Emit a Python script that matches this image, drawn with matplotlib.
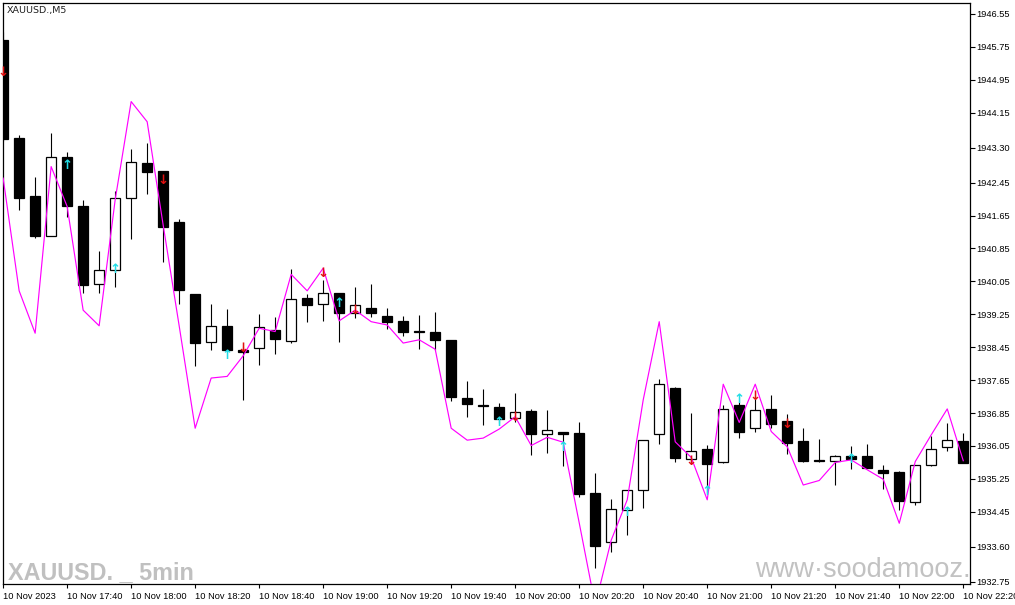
import matplotlib
matplotlib.use("Agg")
import matplotlib.pyplot as plt
import numpy as np

# ---- data ----
opens = [1945.92, 1943.54, 1942.13, 1941.16, 1943.07, 1941.88, 1939.98, 1940.32, 1942.08, 1942.93,
         1942.73, 1941.49, 1939.74, 1938.57, 1938.97, 1938.37, 1938.42, 1938.87, 1938.59, 1939.64,
         1939.49, 1939.76, 1939.27, 1939.40, 1939.21, 1939.09, 1938.84, 1938.82, 1938.63, 1937.22,
         1937.05, 1937.00, 1936.73, 1936.90, 1936.33, 1936.39, 1936.36, 1934.91, 1933.71, 1934.49,
         1934.99, 1936.33, 1937.46, 1935.74, 1935.98, 1935.67, 1937.05, 1936.48, 1936.95, 1936.66,
         1936.17, 1935.71, 1935.69, 1935.81, 1935.81, 1935.47, 1935.42, 1934.69, 1935.59, 1936.02,
         1936.17]
highs = [1946.11, 1943.61, 1942.59, 1943.66, 1943.19, 1942.03, 1940.79, 1942.25, 1943.27, 1943.42,
         1942.74, 1941.57, 1939.74, 1939.50, 1939.37, 1938.45, 1939.26, 1939.18, 1940.35, 1939.74,
         1940.08, 1939.76, 1939.92, 1939.99, 1939.40, 1939.21, 1939.23, 1939.31, 1938.63, 1937.63,
         1937.43, 1937.09, 1937.33, 1936.94, 1936.92, 1936.40, 1936.63, 1935.40, 1934.76, 1934.98,
         1936.19, 1937.68, 1937.48, 1936.84, 1936.07, 1937.04, 1937.12, 1937.20, 1937.29, 1936.83,
         1936.49, 1936.23, 1935.82, 1936.05, 1936.10, 1935.59, 1935.45, 1935.59, 1936.29, 1936.61,
         1936.37]
lows = [1943.46, 1941.79, 1941.11, 1941.15, 1941.62, 1939.76, 1939.76, 1939.92, 1941.08, 1942.17,
        1940.53, 1939.49, 1938.00, 1938.37, 1938.34, 1937.17, 1938.02, 1938.29, 1938.54, 1939.07,
        1939.08, 1938.58, 1939.17, 1939.19, 1938.89, 1938.71, 1938.41, 1938.38, 1937.15, 1936.76,
        1936.57, 1936.60, 1936.64, 1935.84, 1935.89, 1935.57, 1934.82, 1933.09, 1933.48, 1933.89,
        1934.54, 1936.10, 1935.67, 1935.63, 1934.90, 1935.63, 1936.25, 1936.40, 1936.49, 1935.86,
        1935.67, 1935.67, 1935.09, 1935.50, 1935.51, 1935.00, 1934.49, 1934.62, 1935.57, 1935.93,
        1935.64]
closes = [1943.51, 1942.08, 1941.16, 1943.07, 1941.89, 1939.95, 1940.33, 1942.07, 1942.94, 1942.72,
          1941.38, 1939.85, 1938.54, 1938.97, 1938.39, 1938.33, 1938.93, 1938.66, 1939.61, 1939.48,
          1939.77, 1939.27, 1939.47, 1939.27, 1939.07, 1938.83, 1938.81, 1938.62, 1937.25, 1937.06,
          1937.01, 1936.70, 1936.87, 1936.35, 1936.43, 1936.35, 1934.89, 1933.61, 1934.52, 1934.97,
          1936.19, 1937.55, 1935.76, 1935.92, 1935.62, 1936.95, 1936.40, 1936.92, 1936.59, 1936.13,
          1935.68, 1935.68, 1935.81, 1935.73, 1935.52, 1935.40, 1934.72, 1935.59, 1935.98, 1936.19,
          1935.64]
indicator = [1942.56, 1939.82, 1938.79, 1942.84, 1941.87, 1939.35, 1938.97, 1942.03, 1944.42, 1943.93,
             1941.42, 1938.97, 1936.48, 1937.70, 1937.74, 1938.24, 1938.91, 1938.83, 1940.22, 1939.82,
             1940.37, 1939.09, 1939.35, 1939.07, 1938.99, 1938.55, 1938.63, 1938.40, 1936.48, 1936.19,
             1936.24, 1936.46, 1936.76, 1936.06, 1936.26, 1936.14, 1934.18, 1932.18, 1933.76, 1934.74,
             1937.17, 1939.07, 1936.15, 1935.77, 1934.74, 1937.55, 1936.62, 1937.55, 1936.40, 1936.03,
             1935.10, 1935.21, 1935.65, 1935.71, 1935.47, 1935.24, 1934.17, 1935.67, 1936.32, 1936.95,
             1935.69]
up_bars = [4, 7, 14, 21, 31, 35, 39, 44, 46, 53]
up_prices = [1942.86, 1940.33, 1938.24, 1939.52, 1936.63, 1936.02, 1934.44, 1934.95, 1937.19, 1935.71]
down_bars = [0, 10, 15, 20, 22, 32, 43, 47, 49]
down_prices = [1945.12, 1942.51, 1938.41, 1940.25, 1939.35, 1936.75, 1935.66, 1937.24, 1936.56]

price_ticks = [1946.55, 1945.75, 1944.95, 1944.15, 1943.30, 1942.45, 1941.65, 1940.85, 1940.05,
               1939.25, 1938.45, 1937.65, 1936.85, 1936.05, 1935.25, 1934.45, 1933.60, 1932.75]
time_labels = ["10 Nov 2023", "10 Nov 17:40", "10 Nov 18:00", "10 Nov 18:20", "10 Nov 18:40",
               "10 Nov 19:00", "10 Nov 19:20", "10 Nov 19:40", "10 Nov 20:00", "10 Nov 20:20",
               "10 Nov 20:40", "10 Nov 21:00", "10 Nov 21:20", "10 Nov 21:40", "10 Nov 22:00",
               "10 Nov 22:20"]
symbol_label = "XAUUSD.,M5"
watermark_left = "XAUUSD. _ 5min"
watermark_right = "www\u00b7soodamooz.com"

# ---- figure ----
W, H = 1015, 605
fig = plt.figure(figsize=(W / 100, H / 100), dpi=100)
fig.patch.set_facecolor("white")
ax = fig.add_axes([2.5 / W, (H - 584) / H, (969.5 - 2.5) / W, (584 - 3) / H])
ax.set_facecolor("white")

o = np.array(opens); c = np.array(closes); hi = np.array(highs); lo = np.array(lows)
x = np.arange(len(o))
bull = c >= o

ax.vlines(x, lo, hi, color="black", linewidth=0.8, zorder=2)
body_bottom = np.minimum(o, c)
body_h = np.abs(c - o)
ax.bar(x[bull], body_h[bull], bottom=body_bottom[bull], width=0.62,
       color="white", edgecolor="black", linewidth=0.9, zorder=3)
ax.bar(x[~bull], body_h[~bull], bottom=body_bottom[~bull], width=0.62,
       color="black", edgecolor="black", linewidth=0.9, zorder=3)

ax.plot(x, indicator, color="#FF00FF", linewidth=0.85, zorder=4)

for b, p in zip(up_bars, up_prices):
    ax.text(b, p, "\u2191", color="#22DDE6", fontsize=9.5, ha="center", va="center",
            fontweight="bold", zorder=5, family=["DejaVu Sans"])
for b, p in zip(down_bars, down_prices):
    ax.text(b, p, "\u2193", color="#E01010", fontsize=9.5, ha="center", va="center",
            fontweight="bold", zorder=5, family=["DejaVu Sans"])

ax.set_xlim(-0.04, 60.39)
ax.set_ylim(1932.694, 1946.816)

# axes/ticks
for s in ax.spines.values():
    s.set_color("black")
    s.set_linewidth(0.9)
ax.yaxis.tick_right()
ax.set_yticks(price_ticks)
ax.set_yticklabels([f"{v:.2f}" for v in price_ticks])
ax.tick_params(axis="y", direction="out", length=3.5, width=0.8, pad=1.2,
               labelsize=6.7, colors="black")
for t in ax.get_yticklabels():
    t.set_family(["Liberation Sans", "DejaVu Sans"])

tick_pos = np.arange(0, len(o), 4)
ax.set_xticks(tick_pos)
ax.set_xticklabels(time_labels, ha="left")
ax.tick_params(axis="x", direction="out", length=3, width=0.8, pad=2.5,
               labelsize=6.7, colors="black")
for t in ax.get_xticklabels():
    t.set_family(["Liberation Sans", "DejaVu Sans"])

# texts
ax.text(4 / 967, 1 - 8 / 581, symbol_label, transform=ax.transAxes, fontsize=6.8,
        color="#202020", ha="left", va="center", family=["DejaVu Sans"])
ax.text(5.5 / 967, 1 - 576.5 / 581, watermark_left, transform=ax.transAxes,
        fontsize=16.8, fontweight="bold", color="#C0C0C0", ha="left", va="baseline",
        family=["Liberation Sans", "DejaVu Sans"], zorder=1)
ax.text((755 - 2.5) / 967, 1 - (576.7 - 3) / 581, watermark_right, transform=ax.transAxes,
        fontsize=19.5, color="#C2C2C2", ha="left", va="baseline",
        family=["Liberation Sans", "DejaVu Sans"], clip_on=True, zorder=1)

fig.savefig("out.png", dpi=100, facecolor="white")
